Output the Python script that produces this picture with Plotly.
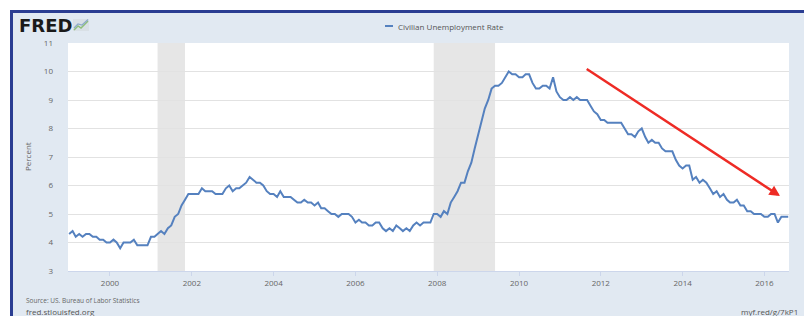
import pandas as pd
import plotly.graph_objects as go

# ---------------- data ----------------
START_MONTH = "1999-01-01"
UNRATE = [
    # 1999
    4.3, 4.4, 4.2, 4.3, 4.2, 4.3, 4.3, 4.2, 4.2, 4.1, 4.1, 4.0,
    # 2000
    4.0, 4.1, 4.0, 3.8, 4.0, 4.0, 4.0, 4.1, 3.9, 3.9, 3.9, 3.9,
    # 2001
    4.2, 4.2, 4.3, 4.4, 4.3, 4.5, 4.6, 4.9, 5.0, 5.3, 5.5, 5.7,
    # 2002
    5.7, 5.7, 5.7, 5.9, 5.8, 5.8, 5.8, 5.7, 5.7, 5.7, 5.9, 6.0,
    # 2003
    5.8, 5.9, 5.9, 6.0, 6.1, 6.3, 6.2, 6.1, 6.1, 6.0, 5.8, 5.7,
    # 2004
    5.7, 5.6, 5.8, 5.6, 5.6, 5.6, 5.5, 5.4, 5.4, 5.5, 5.4, 5.4,
    # 2005
    5.3, 5.4, 5.2, 5.2, 5.1, 5.0, 5.0, 4.9, 5.0, 5.0, 5.0, 4.9,
    # 2006
    4.7, 4.8, 4.7, 4.7, 4.6, 4.6, 4.7, 4.7, 4.5, 4.4, 4.5, 4.4,
    # 2007
    4.6, 4.5, 4.4, 4.5, 4.4, 4.6, 4.7, 4.6, 4.7, 4.7, 4.7, 5.0,
    # 2008
    5.0, 4.9, 5.1, 5.0, 5.4, 5.6, 5.8, 6.1, 6.1, 6.5, 6.8, 7.3,
    # 2009
    7.8, 8.3, 8.7, 9.0, 9.4, 9.5, 9.5, 9.6, 9.8, 10.0, 9.9, 9.9,
    # 2010
    9.8, 9.8, 9.9, 9.9, 9.6, 9.4, 9.4, 9.5, 9.5, 9.4, 9.8, 9.3,
    # 2011
    9.1, 9.0, 9.0, 9.1, 9.0, 9.1, 9.0, 9.0, 9.0, 8.8, 8.6, 8.5,
    # 2012
    8.3, 8.3, 8.2, 8.2, 8.2, 8.2, 8.2, 8.0, 7.8, 7.8, 7.7, 7.9,
    # 2013
    8.0, 7.7, 7.5, 7.6, 7.5, 7.5, 7.3, 7.2, 7.2, 7.2, 6.9, 6.7,
    # 2014
    6.6, 6.7, 6.7, 6.2, 6.3, 6.1, 6.2, 6.1, 5.9, 5.7, 5.8, 5.6,
    # 2015
    5.7, 5.5, 5.4, 5.4, 5.5, 5.3, 5.3, 5.1, 5.1, 5.0, 5.0, 5.0,
    # 2016
    4.9, 4.9, 5.0, 5.0, 4.7, 4.9, 4.9, 4.9,
]
SERIES_NAME = "Civilian Unemployment Rate"
RECESSIONS = [("2001-03-01", "2001-11-01"), ("2007-12-01", "2009-06-01")]
X_TICKS = ["2000-01-01", "2002-01-01", "2004-01-01", "2006-01-01", "2008-01-01",
           "2010-01-01", "2012-01-01", "2014-01-01", "2016-01-01"]
X_TICK_LABELS = ["2000", "2002", "2004", "2006", "2008", "2010", "2012", "2014", "2016"]
Y_TICKS = [3, 4, 5, 6, 7, 8, 9, 10, 11]
X_RANGE = ["1998-12-22", "2016-08-08"]
Y_RANGE = [3, 11]
# hand-drawn trend arrow (tail -> head), in data coordinates
ARROW_TAIL = ("2011-08-15", 10.12)
ARROW_HEAD = ("2016-05-20", 5.63)

dates = pd.date_range(START_MONTH, periods=len(UNRATE), freq="MS")

# ---------------- layout geometry ----------------
# the page body has an 8px margin, so the figure starts at screen (8, 8)
OFF = 8
W, H = 812 - OFF, 316 - OFF
# plot area in screen pixels: x 68..789, y 43..271
SX0, SX1, SY0, SY1 = 68, 789, 43, 271
ML, MR, MT, MB = SX0 - OFF, 812 - SX1, SY0 - OFF, 316 - SY1
PW, PH = SX1 - SX0, SY1 - SY0


def px(x):  # screen x -> paper
    return (x - SX0) / PW


def py(y):  # screen y -> paper
    return (SY1 - y) / PH


FONT = "Open Sans"
LINE_BLUE = "#5581bf"
BG = "#e1e9f2"
BORDER = "#2a3d92"

fig = go.Figure()
fig.add_trace(go.Scatter(
    x=dates, y=UNRATE, mode="lines", name=SERIES_NAME,
    line=dict(color=LINE_BLUE, width=2), showlegend=False,
))

shapes = []
for s, e in RECESSIONS:
    shapes.append(dict(type="rect", xref="x", yref="paper", x0=s, x1=e, y0=0, y1=1,
                       fillcolor="#e6e6e6", line=dict(width=0), layer="below"))

# white outer margins and blue frame
shapes += [
    dict(type="rect", xref="paper", yref="paper", x0=px(-5), x1=px(820), y0=py(10), y1=py(-5),
         fillcolor="white", line=dict(width=0), layer="above"),
    dict(type="rect", xref="paper", yref="paper", x0=px(-5), x1=px(10), y0=py(330), y1=py(-5),
         fillcolor="white", line=dict(width=0), layer="above"),
    dict(type="rect", xref="paper", yref="paper", x0=px(807), x1=px(820), y0=py(330), y1=py(-5),
         fillcolor="white", line=dict(width=0), layer="above"),
    dict(type="rect", xref="paper", yref="paper", x0=px(11.5), x1=px(805.5), y0=py(340), y1=py(11.5),
         fillcolor="rgba(0,0,0,0)", line=dict(color=BORDER, width=3), layer="above"),
    # legend sample line
    dict(type="line", xref="paper", yref="paper", x0=px(385), x1=px(393), y0=py(26), y1=py(26),
         line=dict(color=LINE_BLUE, width=2), layer="above"),
    # FRED logo mini chart icon
    dict(type="rect", xref="paper", yref="paper", x0=px(73), x1=px(89), y0=py(31), y1=py(19),
         fillcolor="#d9e0e6", line=dict(width=0), layer="above"),
    dict(type="path", xref="paper", yref="paper",
         path=f"M {px(74)},{py(30)} L {px(78)},{py(26)} L {px(81)},{py(28)} L {px(88)},{py(21)}",
         line=dict(color="#8fbf7a", width=1.5), layer="above"),
    dict(type="path", xref="paper", yref="paper",
         path=f"M {px(74)},{py(28)} L {px(78)},{py(24)} L {px(82)},{py(25)} L {px(88)},{py(19.5)}",
         line=dict(color="#8eaacb", width=1.2), layer="above"),
]

annotations = [
    dict(text="<b>FRED</b>", xref="paper", yref="paper", x=px(17), y=py(25.5), xanchor="left",
         yanchor="middle", showarrow=False, font=dict(family="DejaVu Sans", size=18, color="#1a1a1a")),
    dict(text=SERIES_NAME, xref="paper", yref="paper", x=px(396), y=py(26), xanchor="left",
         yanchor="middle", showarrow=False, font=dict(family=FONT, size=8, color="#555555")),
    dict(text="Percent", xref="paper", yref="paper", x=px(27), y=0.5, textangle=-90,
         xanchor="center", yanchor="middle", showarrow=False,
         font=dict(family=FONT, size=8, color="#666666")),
    dict(text="Source: US. Bureau of Labor Statistics", xref="paper", yref="paper", x=px(24),
         y=py(300), xanchor="left", yanchor="middle", showarrow=False,
         font=dict(family=FONT, size=6.5, color="#666666")),
    dict(text="fred.stlouisfed.org", xref="paper", yref="paper", x=px(24), y=py(311),
         xanchor="left", yanchor="middle", showarrow=False,
         font=dict(family=FONT, size=8, color="#555555")),
    dict(text="myf.red/g/7kP1", xref="paper", yref="paper", x=px(800), y=py(311),
         xanchor="right", yanchor="middle", showarrow=False,
         font=dict(family=FONT, size=8, color="#555555")),
    dict(x=ARROW_HEAD[0], y=ARROW_HEAD[1], ax=ARROW_TAIL[0], ay=ARROW_TAIL[1],
         xref="x", yref="y", axref="x", ayref="y", text="", showarrow=True,
         arrowhead=2, arrowsize=0.85, arrowwidth=2.5, arrowcolor="#ee2b25", standoff=0),
]

fig.update_layout(
    width=W, height=H,
    margin=dict(l=ML, r=MR, t=MT, b=MB, pad=0),
    paper_bgcolor=BG, plot_bgcolor="white",
    font=dict(family=FONT, size=8, color="#666666"),
    showlegend=False,
    shapes=shapes, annotations=annotations,
    xaxis=dict(range=X_RANGE, tickmode="array", tickvals=X_TICKS, ticktext=X_TICK_LABELS,
               showgrid=False, zeroline=False, showline=True, linecolor="#ccd6eb", linewidth=1,
               ticks="outside", ticklen=4, tickcolor="#ccd6eb",
               tickfont=dict(family=FONT, size=8, color="#666666")),
    yaxis=dict(range=Y_RANGE, tickmode="array", tickvals=Y_TICKS, showgrid=True,
               gridcolor="#e2e2e2", gridwidth=1, zeroline=False, showline=False,
               ticklabelstandoff=14,
               tickfont=dict(family=FONT, size=8, color="#666666")),
)

fig.write_html("out.html")
